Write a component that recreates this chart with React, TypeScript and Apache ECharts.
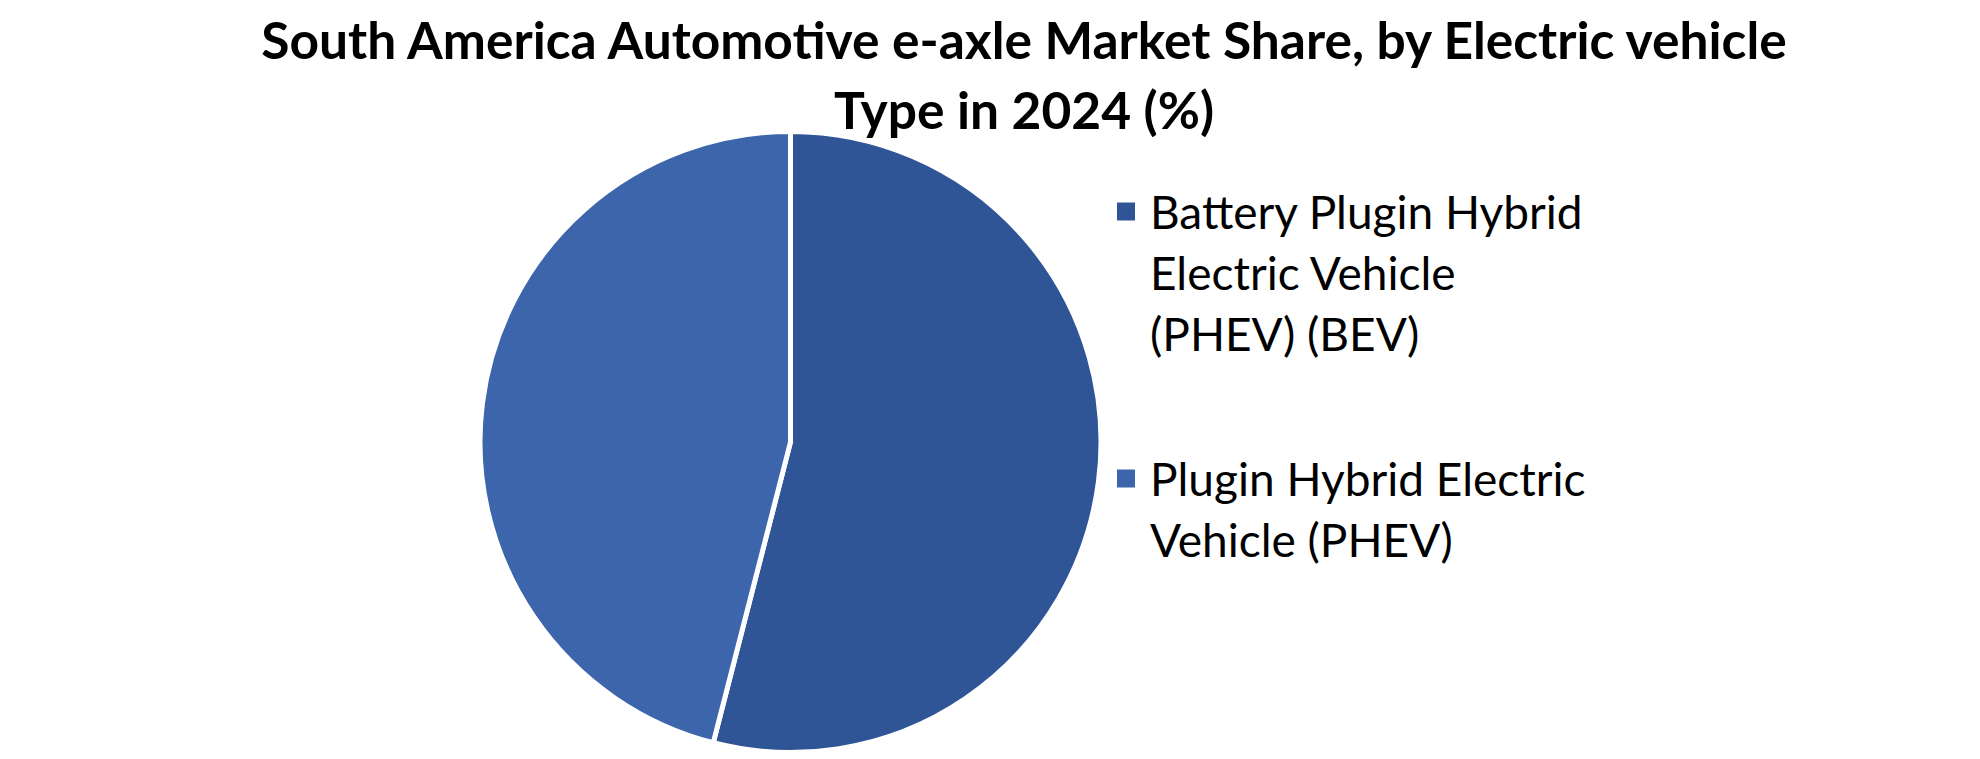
import React, { useEffect, useRef } from "react";
import * as echarts from "echarts";

const titleLines = [
  "South America Automotive e-axle Market Share, by Electric vehicle",
  "Type in 2024 (%)",
];
const categories = [
  "Battery Plugin Hybrid Electric Vehicle (PHEV) (BEV)",
  "Plugin Hybrid Electric Vehicle (PHEV)",
];
const legendLines = [
  ["Battery Plugin Hybrid", "Electric Vehicle", "(PHEV) (BEV)"],
  ["Plugin Hybrid Electric", "Vehicle (PHEV)"],
];
const shares = [54, 46];
const colors = ["#2F5597", "#3D65AC"];

export default function App() {
  const ref = useRef<HTMLDivElement>(null);
  useEffect(() => {
    document.body.style.margin = "0";
    const chart = echarts.init(ref.current!, null, { renderer: "svg" });
    chart.setOption({
      animation: false,
      backgroundColor: "#ffffff",
      title: {
        text: titleLines.join("\n"),
        left: 1024,
        textAlign: "center",
        top: 4,
        padding: 0,
        textStyle: {
          fontFamily: "Lato",
          fontWeight: "bold",
          fontSize: 51.5,
          lineHeight: 70,
          color: "#000000",
        },
      },
      legend: {
        orient: "vertical",
        left: 1115,
        top: 59,
        padding: 0,
        itemGap: 23,
        itemWidth: 20,
        itemHeight: 20,
        icon: "rect",
        selectedMode: false,
        data: categories,
        formatter: (name: string) => {
          const i = categories.indexOf(name);
          const lines = legendLines[i];
          const blanks = new Array(lines.length - 1).fill("");
          return [...blanks, ...lines].join("\n");
        },
        textStyle: {
          fontFamily: "Lato",
          fontSize: 46,
          lineHeight: 61,
          color: "#000000",
          padding: [0, 0, 0, 9],
        },
      },
      series: [
        {
          type: "pie",
          center: [790.5, 442],
          radius: 310.5,
          startAngle: 90,
          clockwise: true,
          label: { show: false },
          labelLine: { show: false },
          itemStyle: { borderColor: "#ffffff", borderWidth: 5 },
          emphasis: { disabled: true },
          data: categories.map((c, i) => ({
            name: c,
            value: shares[i],
            itemStyle: { color: colors[i] },
          })),
        },
      ],
    });
    return () => chart.dispose();
  }, []);
  return <div ref={ref} style={{ width: 1980, height: 759 }} />;
}
